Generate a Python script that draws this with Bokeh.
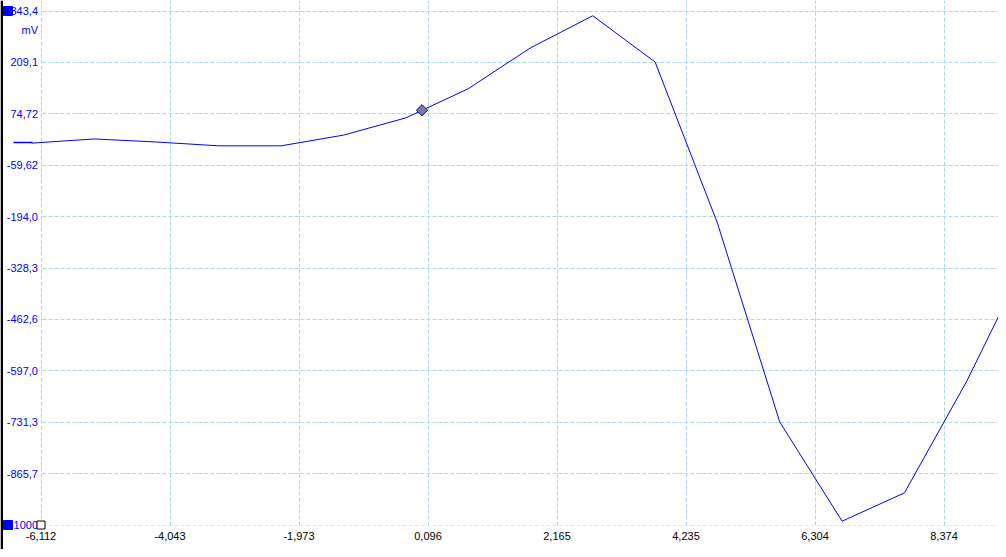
from bokeh.plotting import figure
from bokeh.models import FixedTicker, CustomJSTickFormatter, Range1d, Label, BoxAnnotation
from bokeh.embed import file_html
from bokeh.resources import INLINE

# ---- data ----
time_ns = [-6.26, -5.26, -4.26, -3.26, -2.26, -1.26, -0.26, 0.74, 1.74, 2.74,
           3.74, 4.74, 5.74, 6.74, 7.74, 8.74, 9.74]
voltage_mv = [-2, 9, 1, -9, -9, 19, 64, 140, 247, 331,
              210, -211, -731, -990, -916, -624, -292]
marker_time = [0.0]
marker_mv = [84]

x_ticks = [-6.112, -4.0425, -1.973, 0.0965, 2.166, 4.2355, 6.305, 8.3745]
x_tick_labels = ["-6,112", "-4,043", "-1,973", "0,096", "2,165", "4,235", "6,304", "8,374"]
y_ticks = [-1000.0, -865.66, -731.32, -596.98, -462.64, -328.30, -193.96,
           -59.62, 74.72, 209.06, 343.40]
y_tick_labels = ["-1000", "-865,7", "-731,3", "-597,0", "-462,6", "-328,3", "-194,0",
                 "-59,62", "74,72", "209,1", "343,4"]
y_unit = "mV"
zero_level = [0.0]

# ---- layout (pixel geometry of the scope screen) ----
FIG_W, FIG_H = 998, 549
px_per_ns = 903.0 / (x_ticks[-1] - x_ticks[0])
mv_per_px = (y_ticks[-1] - y_ticks[0]) / 514.0

x_start = x_ticks[0] - 40.5 / px_per_ns
x_end = x_start + FIG_W / px_per_ns
y_end = y_ticks[-1] + 10.5 * mv_per_px
y_start = y_end - FIG_H * mv_per_px

def xpx(px):
    return x_start + px / px_per_ns

def ypx(py):
    return y_end - py * mv_per_px

p = figure(width=FIG_W, height=FIG_H, output_backend="svg", toolbar_location=None,
           x_range=Range1d(x_start, x_end), y_range=Range1d(y_start, y_end),
           min_border_left=0, min_border_right=0, min_border_top=0, min_border_bottom=0)
p.outline_line_color = None
p.background_fill_color = "white"
p.border_fill_color = "white"

fmt_code = """
let best = 0, d = Infinity;
for (let i = 0; i < tvals.length; i++) {
  const e = Math.abs(tvals[i] - tick);
  if (e < d) { d = e; best = i; }
}
return tlabels[best];
"""
p.xaxis.ticker = FixedTicker(ticks=x_ticks)
p.xaxis.formatter = CustomJSTickFormatter(args=dict(tvals=x_ticks, tlabels=x_tick_labels), code=fmt_code)
p.yaxis.ticker = FixedTicker(ticks=y_ticks)
p.yaxis.formatter = CustomJSTickFormatter(args=dict(tvals=y_ticks, tlabels=y_tick_labels), code=fmt_code)
p.xaxis.fixed_location = y_ticks[0]
p.yaxis.fixed_location = x_ticks[0]

for ax in (p.xaxis, p.yaxis):
    ax.axis_line_color = None
    ax.major_tick_line_color = None
    ax.minor_tick_line_color = None
    ax.major_tick_out = 0
    ax.major_tick_in = 0
    ax.major_label_text_font = "Liberation Sans"
    ax.major_label_text_font_size = "11px"

p.xaxis.major_label_text_color = "#000000"
p.xaxis.major_label_standoff = 7
p.yaxis.major_label_text_color = "#0000ff"
p.yaxis.major_label_standoff = 3

for g in (p.xgrid, p.ygrid):
    g.grid_line_color = "#add8e6"
    g.grid_line_dash = "4 2"
    g.grid_line_width = 1

# white margins: grid lines only inside the screen area
p.add_layout(BoxAnnotation(right=xpx(40), fill_color="white", fill_alpha=1,
                           line_color=None, level="underlay"))
p.add_layout(BoxAnnotation(top=ypx(525), fill_color="white", fill_alpha=1,
                           line_color=None, level="underlay"))
# black bar at the left edge
p.add_layout(BoxAnnotation(right=xpx(2.5), fill_color="black", fill_alpha=1,
                           line_color=None, level="underlay"))

# trace
p.line(time_ns, voltage_mv, line_color="#0000ff", line_width=1)
p.scatter(marker_time, marker_mv, marker="square", size=8, angle=0.785398,
          fill_color="#808080", line_color="#0000ff", line_width=1)

# channel zero-level indicator
p.segment(x0=[xpx(13)], x1=[xpx(32)], y0=zero_level, y1=zero_level,
          line_color="#0000ff", line_width=1.5)

# channel range markers (top and bottom of the scale)
rng = p.scatter([xpx(7.5), xpx(7.5)], [y_ticks[-1], y_ticks[0]], marker="square", size=9,
                fill_color="#0000ff", line_color="#0000ff")
rng.level = "overlay"
# origin marker
org = p.scatter([x_ticks[0]], [y_ticks[0]], marker="square", size=8,
                fill_color="white", line_color="black", line_width=1)
org.level = "overlay"

unit_label = Label(x=x_ticks[0], y=ypx(29.5), x_offset=-3, text=y_unit,
                   text_align="right", text_baseline="middle", text_color="#0000ff",
                   text_font="Liberation Sans", text_font_size="11px")
p.add_layout(unit_label)

open("out.html", "w").write(file_html(p, INLINE))
